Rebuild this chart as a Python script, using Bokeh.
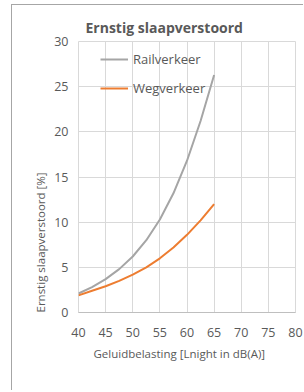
from bokeh.plotting import figure
from bokeh.embed import file_html
from bokeh.resources import INLINE
from bokeh.models import Legend, LegendItem, FixedTicker, Range1d, Title

x_db = [40, 42.5, 45, 47.5, 50, 52.5, 55, 57.5, 60, 62.5, 65]
rail = [2.1, 2.8, 3.7, 4.8, 6.2, 8.0, 10.3, 13.2, 16.8, 21.2, 26.3]
weg = [1.9, 2.4, 2.9, 3.5, 4.2, 5.0, 6.0, 7.2, 8.6, 10.2, 12.0]
x_ticks = [40, 45, 50, 55, 60, 65, 70, 75, 80]
y_ticks = [0, 5, 10, 15, 20, 25, 30]

FONT = "Open Sans"
TXT = "#595959"
GRID = "#d9d9d9"

W, H = 292, 386
p = figure(width=W, height=H, output_backend="svg", toolbar_location=None,
           x_range=Range1d(40, 80), y_range=Range1d(0, 30),
           min_border_left=66, min_border_right=9, min_border_top=36, min_border_bottom=79)
p.styles = {"border-top": "1px solid #a6a6a6", "border-left": "1px solid #a6a6a6",
            "margin-left": "11px", "margin-top": "4px"}

p.title.text = "Ernstig slaapverstoord"
p.title.align = "left"
p.title.offset = 7
p.title.text_font = FONT
p.title.text_font_size = "14px"
p.title.text_font_style = "bold"
p.title.text_color = TXT

r1 = p.line(x_db, rail, line_color="#a5a5a5", line_width=2)
r2 = p.line(x_db, weg, line_color="#ed7d31", line_width=2)

legend = Legend(items=[LegendItem(label="Railverkeer", renderers=[r1]),
                       LegendItem(label="Wegverkeer", renderers=[r2])],
                location=(22, 214), background_fill_alpha=0, border_line_color=None,
                label_text_font=FONT, label_text_font_size="13px", label_text_color=TXT,
                glyph_width=28, glyph_height=20, spacing=9, margin=0, padding=0,
                label_standoff=5)
p.add_layout(legend)

p.xaxis.ticker = FixedTicker(ticks=x_ticks)
p.yaxis.ticker = FixedTicker(ticks=y_ticks)
for ax in (p.xaxis, p.yaxis):
    ax.major_tick_line_color = None
    ax.minor_tick_line_color = None
    ax.major_tick_out = 0
    ax.major_tick_in = 0
    ax.minor_tick_out = 0
    ax.minor_tick_in = 0
    ax.major_label_text_font = FONT
    ax.major_label_text_font_size = "12.5px"
    ax.major_label_text_color = TXT
p.xaxis.axis_line_color = "#bfbfbf"
p.yaxis.axis_line_color = None
p.xaxis.major_label_standoff = 15
p.yaxis.major_label_standoff = 10

xt = Title(text="Geluidbelasting [Lnight in dB(A)]", align="left", offset=15,
           standoff=9, text_font=FONT, text_font_size="11.5px",
           text_font_style="normal", text_color=TXT)
yt = Title(text="Ernstig slaapverstoord [%]", align="left", offset=0,
           standoff=8, text_font=FONT, text_font_size="11.5px",
           text_font_style="normal", text_color=TXT)
p.add_layout(xt, "below")
p.add_layout(yt, "left")

p.xgrid.grid_line_color = GRID
p.ygrid.grid_line_color = GRID
p.outline_line_color = GRID

open("out.html", "w").write(file_html(p, INLINE))
